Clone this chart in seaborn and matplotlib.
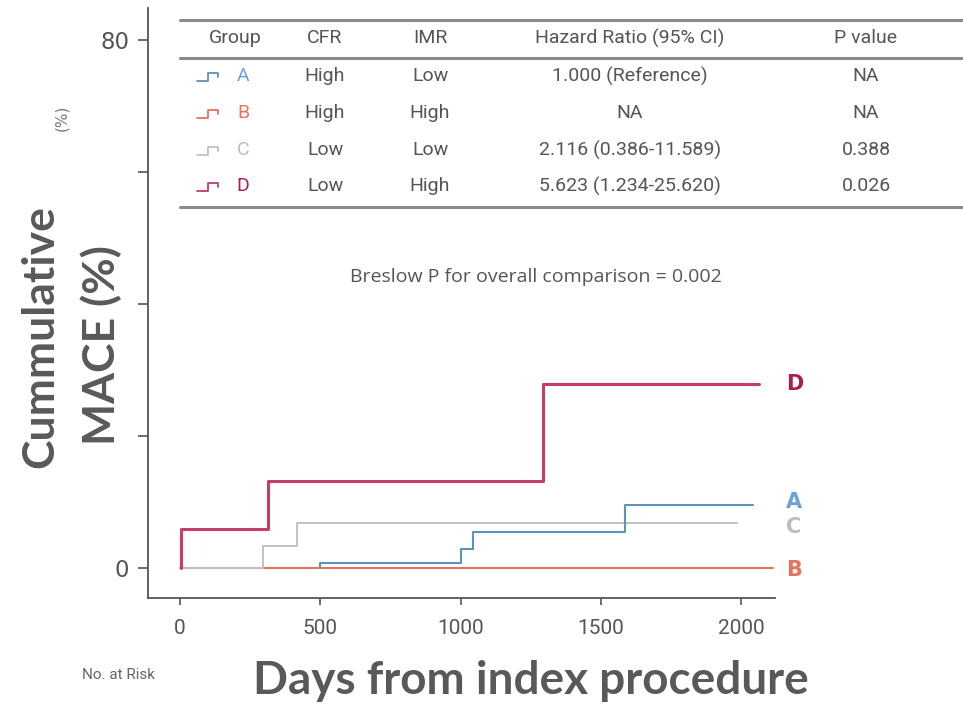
import matplotlib
matplotlib.use("Agg")
import matplotlib.pyplot as plt
import seaborn as sns
import pandas as pd
from matplotlib.lines import Line2D

# ---------------- data ----------------
groups = ["A", "B", "C", "D"]
a_days = [499, 499, 1000, 1045, 1587, 2043]
a_vals = [0.0, 0.9, 3.0, 5.5, 9.6, 9.6]
b_days = [0, 2114]
b_vals = [0.0, 0.0]
c_days = [0, 297, 416, 1985]
c_vals = [0.0, 3.4, 6.9, 6.9]
d_days = [5, 5, 314, 1294, 2064]
d_vals = [0.0, 6.0, 13.3, 28.0, 28.0]

cfr = ["High", "High", "Low", "Low"]
imr = ["Low", "High", "Low", "High"]
hazard = ["1.000 (Reference)", "NA", "2.116 (0.386-11.589)", "5.623 (1.234-25.620)"]
pvals = ["NA", "NA", "0.388", "0.026"]
table_header = ["Group", "CFR", "IMR", "Hazard Ratio (95% CI)", "P value"]

x_ticks = [0, 500, 1000, 1500, 2000]
y_ticks = [0, 20, 40, 60, 80]
y_ticklabels = ["0", "", "", "", "80"]

line_colors = {"A": "#5a93bb", "B": "#e8705f", "C": "#c2c2c2", "D": "#c63d66"}
label_colors = {"A": "#6ea2d6", "B": "#e8735a", "C": "#bdbdbd", "D": "#b01a4c"}
line_widths = {"A": 1.5, "B": 1.5, "C": 1.4, "D": 2.2}

series = {"A": (a_days, a_vals), "B": (b_days, b_vals),
          "C": (c_days, c_vals), "D": (d_days, d_vals)}

# ---------------- figure ----------------
sns.set_theme(style="white")
plt.rcParams["font.family"] = ["DejaVu Sans"]
W, H = 963, 704
fig = plt.figure(figsize=(W / 100, H / 100), dpi=100)

def fx(px):
    return px / W

def fy(py):
    return 1 - py / H

ax = fig.add_axes([fx(148), fy(598), fx(775) - fx(148), fy(8) - fy(598)])

gray = "#555555"
narrow = ["Roboto", "DejaVu Sans"]
bold_family = ["Lato", "Open Sans", "DejaVu Sans"]

for g in ["B", "C", "A", "D"]:
    days, vals = series[g]
    df = pd.DataFrame({"day": days, "cum": vals})
    sns.lineplot(data=df, x="day", y="cum", ax=ax, sort=False, estimator=None,
                 drawstyle="steps-post", color=line_colors[g],
                 linewidth=line_widths[g])

ax.set_xlim(-114, 2121)
ax.set_ylim(-4.47, 84.9)
ax.set_xticks(x_ticks)
ax.set_xticklabels([str(t) for t in x_ticks], fontsize=15, color=gray, family=narrow)
ax.set_yticks(y_ticks)
ax.set_yticklabels(y_ticklabels, fontsize=16.5, color=gray)
ax.tick_params(axis="x", direction="out", length=5, width=1.2, color=gray,
               bottom=True, pad=10)
ax.tick_params(axis="y", direction="out", length=7.5, width=1.2, color=gray,
               left=True, pad=6)
for s in ["top", "right"]:
    ax.spines[s].set_visible(False)
for s in ["left", "bottom"]:
    ax.spines[s].set_color(gray)
    ax.spines[s].set_linewidth(1.3)
ax.set_xlabel("")
ax.set_ylabel("")

# end labels
end_label_y = {"D": 28.0, "A": 9.6, "C": 6.9, "B": 0.0}
end_label_dy = {"D": 0, "A": 0.4, "C": -0.6, "B": -0.3}
for g in ["D", "A", "C", "B"]:
    ax.text(2160, end_label_y[g] + end_label_dy[g], g, color=label_colors[g],
            fontsize=15, fontweight="bold", va="center", ha="left", clip_on=False)

# Breslow text
fig.text(fx(536), fy(277), "Breslow P for overall comparison = 0.002",
         ha="center", va="center", fontsize=14, color=gray,
         family=["Open Sans", "DejaVu Sans"])

# table
for yy in [20, 58, 207]:
    fig.add_artist(Line2D([fx(180), fx(963)], [fy(yy), fy(yy)], color="#8a8a8a",
                          linewidth=2.2))
col_x = [235, 325, 430, 630, 866]
row_y = [76, 113, 150, 186]
for cx, txt in zip(col_x, table_header):
    fig.text(fx(cx), fy(38), txt, ha="center", va="center", fontsize=14,
             color=gray, family=narrow)
for i, g in enumerate(groups):
    ry = row_y[i]
    fig.text(fx(243), fy(ry), g, ha="center", va="center", fontsize=14,
             color=label_colors[g], family=narrow)
    # small step icon
    xs = [fx(197), fx(208), fx(208), fx(218), fx(218)]
    ys = [fy(ry + 5), fy(ry + 5), fy(ry - 3), fy(ry - 3), fy(ry + 1)]
    fig.add_artist(Line2D(xs, ys, color=line_colors[g], linewidth=1.3))
    for cx, txt in zip(col_x[1:], [cfr[i], imr[i], hazard[i], pvals[i]]):
        fig.text(fx(cx), fy(ry), txt, ha="center", va="center", fontsize=14,
                 color=gray, family=narrow)

# axis labels (overlay style)
fig.text(fx(40), fy(337), "Cummulative", rotation=90, ha="center",
         va="center", fontsize=32, fontweight="bold", color="#595959",
         family=bold_family)
fig.text(fx(101), fy(345), "MACE (%)", rotation=90, ha="center",
         va="center", fontsize=32, fontweight="bold", color="#595959",
         family=bold_family)
fig.text(fx(531), fy(681), "Days from index procedure", ha="center",
         va="center", fontsize=33, fontweight="bold", color="#595959",
         family=bold_family)
fig.text(fx(62), fy(118), "(%)", rotation=90, ha="center", va="center",
         fontsize=11, color="#777777")
fig.text(fx(118), fy(675), "No. at Risk", ha="center", va="center",
         fontsize=11, color="#666666", family=narrow)

fig.savefig("out.png", dpi=100)
